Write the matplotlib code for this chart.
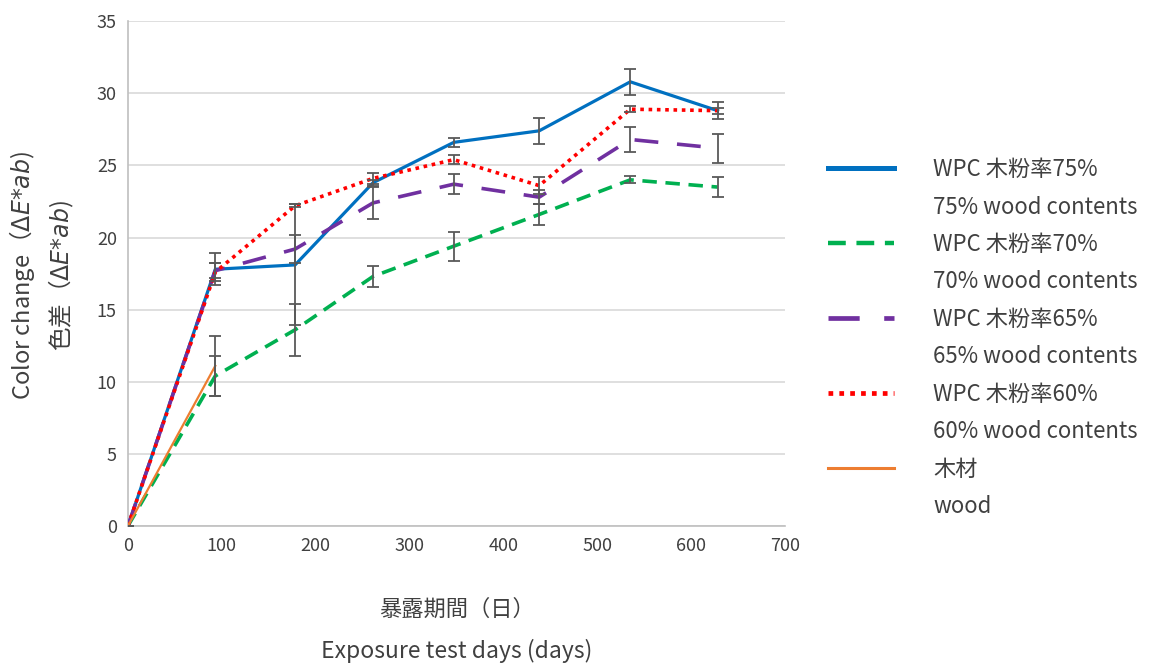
import matplotlib
matplotlib.use("Agg")
import matplotlib.pyplot as plt
from matplotlib.lines import Line2D

plt.rcParams['font.family'] = ['Noto Sans CJK JP', 'DejaVu Sans']
plt.rcParams['mathtext.fontset'] = 'dejavusans'

# exposure days
days = [0, 93, 178, 261, 347, 438, 535, 628]
days_wood = [0, 93]

# color change values and error bars
wpc75 = [0, 17.8, 18.1, 23.8, 26.6, 27.4, 30.8, 28.8]
wpc75_err = [0, 1.1, 4.2, 0.2, 0.3, 0.9, 0.9, 0.6]
wpc70 = [0, 10.4, 13.6, 17.3, 19.4, 21.6, 24.0, 23.5]
wpc70_err = [0, 1.4, 1.8, 0.7, 1.0, 0.7, 0.25, 0.7]
wpc65 = [0, 17.7, 19.2, 22.4, 23.7, 22.8, 26.8, 26.2]
wpc65_err = [0, 0.5, 1.0, 1.1, 0.7, 0.5, 0.9, 1.0]
wpc60 = [0, 17.6, 22.2, 24.1, 25.4, 23.6, 28.9, 28.8]
wpc60_err = [0, 0.6, 0.1, 0.4, 0.3, 0.6, 0.2, 0.2]
wood = [0, 11.1]
wood_err = [0, 2.1]

labels_jp = ["WPC 木粉率75%", "WPC 木粉率70%", "WPC 木粉率65%", "WPC 木粉率60%", "木材"]
labels_en = ["75% wood contents", "70% wood contents", "65% wood contents", "60% wood contents", "wood"]

fig = plt.figure(figsize=(11.53, 6.64), dpi=100)
ax = fig.add_axes([0.111, 0.208, 0.570, 0.760])

series = [
    (days, wpc75, wpc75_err, dict(color='#0070C0', lw=2.3, ls='-')),
    (days, wpc70, wpc70_err, dict(color='#00B050', lw=2.6, ls=(0, (4, 2.4)))),
    (days, wpc65, wpc65_err, dict(color='#7030A0', lw=2.6, ls=(0, (6.6, 5.2)))),
    (days, wpc60, wpc60_err, dict(color='#FF0000', lw=2.6, ls=(0, (1, 1.3)))),
    (days_wood, wood, wood_err, dict(color='#ED7D31', lw=1.6, ls='-')),
]

handles = []
for x, y, e, st in series:
    ln, = ax.plot(x, y, zorder=3, **st)
    ax.errorbar(x, y, yerr=e, fmt='none', ecolor='#595959', elinewidth=1.3,
                capsize=4, capthick=1.3, zorder=4)
    handles.append(ln)

ax.set_xlim(0, 700)
ax.set_ylim(0, 35)
ax.set_xticks(range(0, 701, 100))
ax.set_yticks(range(0, 36, 5))
ax.grid(axis='y', color='#D9D9D9', lw=1.2)
ax.set_axisbelow(True)
for s in ['top', 'right']:
    ax.spines[s].set_visible(False)
for s in ['left', 'bottom']:
    ax.spines[s].set_color('#BFBFBF')
    ax.spines[s].set_linewidth(1.2)
ax.tick_params(length=0, labelsize=13, labelcolor='#404040', pad=8)

# legend: each series followed by an empty row for the English label
leg_h, leg_l = [], []
blank = Line2D([], [], color='none')
for h, jp, en in zip(handles, labels_jp, labels_en):
    leg_h += [h, blank]
    leg_l += [jp, en]
leg = fig.legend(leg_h, leg_l, loc='upper left', bbox_to_anchor=(0.7005, 0.792),
                 frameon=False, fontsize=16, handlelength=3.0, handletextpad=1.75,
                 labelspacing=0.65)
for t in leg.get_texts():
    t.set_color('#404040')
# legend handles are drawn a bit thicker than the plot lines
for lh, w in zip(leg.legend_handles[::2], [3.6, 3.2, 3.4, 3.4, 2.2]):
    lh.set_linewidth(w)

# axis titles
fig.text(0.396, 0.082, "暴露期間（日）", ha='center', va='center', fontsize=16, color='#404040')
fig.text(0.396, 0.020, "Exposure test days (days)", ha='center', va='center', fontsize=16.5, color='#404040')
fig.text(0.019, 0.585, "Color change（$\\mathit{\\Delta E{*}ab}$)", rotation=90,
         ha='center', va='center', fontsize=17, color='#404040')
fig.text(0.053, 0.585, "色差（$\\mathit{\\Delta E{*}ab}$)", rotation=90,
         ha='center', va='center', fontsize=17, color='#404040')

fig.savefig("out.png", dpi=100)
